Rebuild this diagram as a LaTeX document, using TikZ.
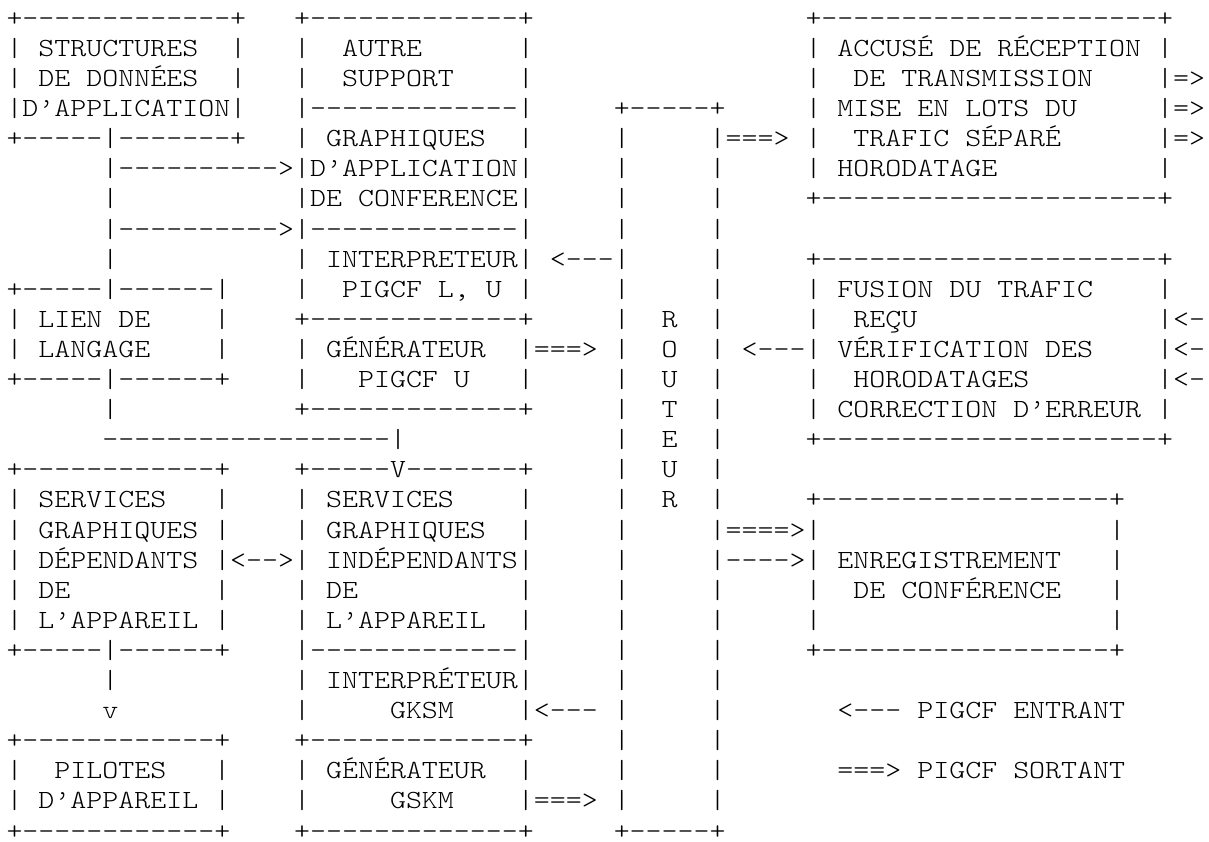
\documentclass[tikz,border=0pt]{standalone}
\usepackage{fontspec}
\setmonofont{lmmonolt10-regular.otf}[FakeStretch=1.1624]
\usepackage{tikz}

\tikzset{
  cell/.style={font=\ttfamily\fontsize{19.64pt}{22.5pt}\selectfont,
               anchor=base west, inner sep=0pt, outer sep=0pt, text depth=0pt}
}

\begin{document}
\begin{tikzpicture}[x=11.985pt, y=-22.575pt]
    \path[use as bounding box, fill=white] (-0.407,-0.8738) rectangle (75.25,27.067);

    % left column: structures, lien de langage, services dependants, pilotes
    \foreach \rowno/\colno/\frag in {
      0/0/+-------------+, 1/0/| STRUCTURES, 1/14/|, 2/0/| DE DONNÉES, 2/14/|,
      3/0/|D’APPLICATION|, 4/0/+-----|-------+,
      5/6/|---------->|D’APPLICATION|, 6/6/|, 7/6/|---------->|-------------|, 8/6/|,
      9/0/+-----|------|, 10/0/| LIEN DE, 10/13/|, 11/0/| LANGAGE, 11/13/|,
      12/0/+-----|------+, 13/6/|, 14/6/------------------|,
      15/0/+------------+, 16/0/| SERVICES, 16/13/|, 17/0/| GRAPHIQUES |,
      18/0/| DÉPENDANTS |<-->| INDÉPENDANTS|, 19/0/| DE, 19/13/|,
      20/0/| L’APPAREIL |, 21/0/+-----|------+, 22/6/|, 23/6/v,
      24/0/+------------+, 25/0/|, 25/3/PILOTES, 25/13/|,
      26/0/| D’APPAREIL |, 27/0/+------------+}
      \node[cell] (r\rowno c\colno) at (\colno,\rowno) {\frag};

    % middle column: autre support, interpreteurs, generateurs
    \foreach \rowno/\colno/\frag in {
      0/18/+-------------+, 1/18/|, 1/21/AUTRE, 1/32/|, 2/18/|, 2/21/SUPPORT, 2/32/|,
      3/18/|-------------|, 4/18/| GRAPHIQUES, 4/32/|, 6/18/|DE CONFERENCE|,
      8/18/| INTERPRETEUR| <---, 9/18/|, 9/21/{PIGCF L, U |},
      10/18/+-------------+, 11/18/| GÉNÉRATEUR, 11/32/|===>,
      12/18/|, 12/22/PIGCF U, 12/32/|, 13/18/+-------------+,
      15/18/+-----V-------+, 16/18/| SERVICES, 16/32/|, 17/18/| GRAPHIQUES, 17/32/|,
      19/18/| DE, 19/32/|, 20/18/| L’APPAREIL, 20/32/|, 21/18/|-------------|,
      22/18/| INTERPRÉTEUR|, 23/18/|, 23/24/GKSM, 23/32/|<---,
      24/18/+-------------+, 25/18/| GÉNÉRATEUR, 25/32/|,
      26/18/|, 26/24/GSKM, 26/32/|===>, 27/18/+-------------+}
      \node[cell] (r\rowno c\colno) at (\colno,\rowno) {\frag};

    % routeur
    \node[cell] (r3c38) at (38,3) {+-----+};
    \foreach \rowno in {4,5,...,26}
      \node[cell] (r\rowno c38) at (38,\rowno) {|};
    \foreach \rowno in {5,6,...,10,12,13,...,16,19,20,...,26}
      \node[cell] (r\rowno c44) at (44,\rowno) {|};
    \foreach \rowno/\letter in {10/R, 11/O, 12/U, 13/T, 14/E, 15/U, 16/R}
      \node[cell] (r\rowno c41) at (41,\rowno) {\letter};
    \node[cell] (r27c38) at (38,27) {+-----+};

    % right column: transmission, reception, enregistrement, legende
    \foreach \rowno/\colno/\frag in {
      0/50/+---------------------+, 1/50/| ACCUSÉ DE RÉCEPTION |,
      2/50/|, 2/53/DE TRANSMISSION, 2/72/|=>, 3/50/| MISE EN LOTS DU, 3/72/|=>,
      4/44/|===> |, 4/53/TRAFIC SÉPARÉ, 4/72/|=>, 5/50/| HORODATAGE, 5/72/|,
      6/50/+---------------------+, 8/50/+---------------------+,
      9/50/| FUSION DU TRAFIC, 9/72/|, 10/50/|, 10/53/REÇU, 10/72/|<-,
      11/44/| <---| VÉRIFICATION DES, 11/72/|<-,
      12/50/|, 12/53/HORODATAGES, 12/72/|<-, 13/50/| CORRECTION D’ERREUR |,
      14/50/+---------------------+, 16/50/+------------------+,
      17/44/|====>|, 17/69/|, 18/44/|---->| ENREGISTREMENT, 18/69/|,
      19/50/|, 19/53/DE CONFÉRENCE, 19/69/|, 20/50/|, 20/69/|,
      21/50/+------------------+, 23/52/<--- PIGCF ENTRANT,
      25/52/===> PIGCF SORTANT}
      \node[cell] (r\rowno c\colno) at (\colno,\rowno) {\frag};
\end{tikzpicture}
\end{document}
